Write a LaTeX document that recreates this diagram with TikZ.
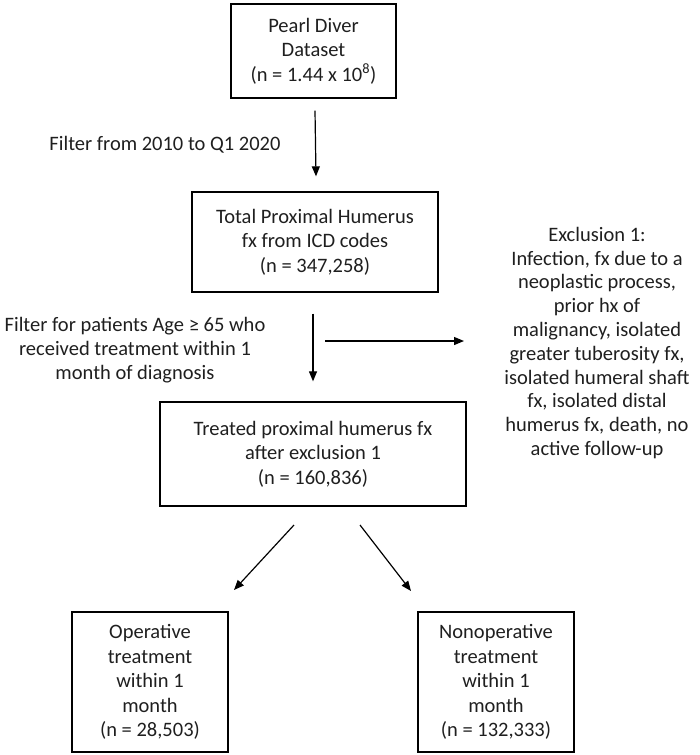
\documentclass[tikz,border=0pt]{standalone}
\usepackage{fontspec}
\setmainfont{Carlito}
\usetikzlibrary{arrows.meta}
\begin{document}
\begin{tikzpicture}[x=1pt,y=-1pt,
  box/.style={draw=black,line width=1.3pt,align=center,inner sep=0pt,font=\fontsize{20.5}{24.5}\selectfont,text=black!88},
  lbl/.style={align=center,inner sep=0pt,font=\fontsize{20.5}{24}\selectfont,text=black!88},
  arr/.style={line width=1.2pt,-{Triangle[length=10pt,width=8pt]}}]
\useasboundingbox (0,0) rectangle (700,755);
\node[box,minimum width=165pt,minimum height=94pt] (b1) at (313.5,51) {Pearl Diver\\Dataset\\(n = 1.44 x 10\textsuperscript{8})};
\node[box,minimum width=246pt,minimum height=100pt] (b2) at (315,242) {Total Proximal Humerus\\fx from ICD codes\\(n = 347,258)};
\node[box,minimum width=306pt,minimum height=104pt] (b3) at (313,454) {Treated proximal humerus fx\\after exclusion 1\\(n = 160,836)};
\node[box,minimum width=156pt,minimum height=140pt] (b4) at (150,682) {Operative\\treatment\\within 1\\month\\(n = 28,503)};
\node[box,minimum width=156pt,minimum height=140pt] (b5) at (496,682) {Nonoperative\\treatment\\within 1\\month\\(n = 132,333)};
\node[lbl] (f1) at (165,145) {Filter from 2010 to Q1 2020};
\node[lbl] (f2) at (135,350) {Filter for patients Age ≥ 65 who\\received treatment within 1\\month of diagnosis};
\node[lbl,font=\fontsize{20.5}{23.8}\selectfont] (ex) at (597,343) {Exclusion 1:\\Infection, fx due to a\\neoplastic process,\\prior hx of\\malignancy, isolated\\greater tuberosity fx,\\isolated humeral shaft\\fx, isolated distal\\humerus fx, death, no\\active follow-up};
\coordinate (h1) at (325,341);
\coordinate (h2) at (464,341);
\coordinate (l1) at (294,525);
\coordinate (l2) at (234,590);
\coordinate (r1) at (360,525);
\coordinate (r2) at (411,591);
\draw[arr] ([xshift=1.5pt,yshift=-12pt]b1.south) -- ([xshift=1pt,yshift=15pt]b2.north);
\draw[arr] ([xshift=-2pt,yshift=-21pt]b2.south) -- ([yshift=20pt]b3.north);
\draw[arr] (h1) -- (h2);
\draw[arr] (l1) -- (l2);
\draw[arr] (r1) -- (r2);
\end{tikzpicture}
\end{document}
